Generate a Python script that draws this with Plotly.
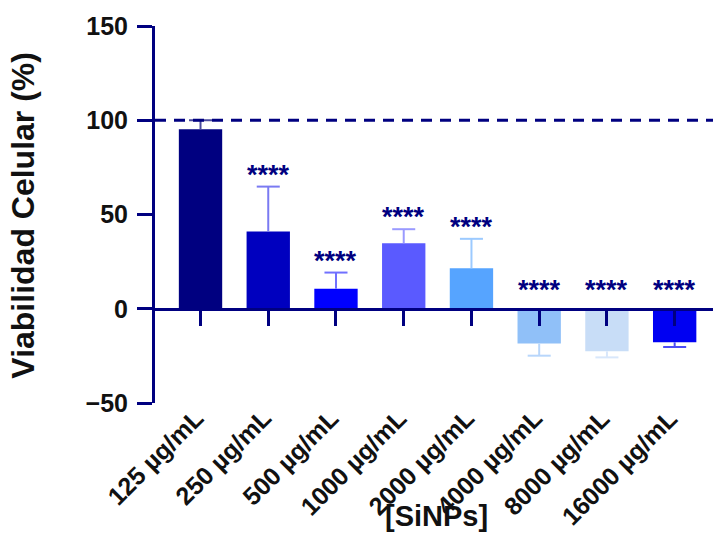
import plotly.graph_objects as go

categories = ["125 µg/mL", "250 µg/mL", "500 µg/mL", "1000 µg/mL",
              "2000 µg/mL", "4000 µg/mL", "8000 µg/mL", "16000 µg/mL"]
means = [95.2, 41.0, 10.6, 34.8, 21.5, -18.5, -22.6, -17.8]
errors = [4.8, 23.8, 8.6, 7.4, 15.6, 6.4, 3.2, 2.5]
significance = ["", "****", "****", "****", "****", "****", "****", "****"]
y_ticks = [-50, 0, 50, 100, 150]
reference_level = 100

bar_colors = ["#000080", "#0000bf", "#0000ff", "#5a5aff",
              "#56a4ff", "#90c0f8", "#c8ddf7", "#0000f2"]
err_colors = ["#4a4a9e", "#7a7af2", "#7070ff", "#9a9aff",
              "#9ccaff", "#b8d6fb", "#d8e7fb", "#4c4cf5"]

NAVY = "#000080"
TXT = "#111111"
FONT = "Liberation Sans, Arial, sans-serif"
idx = list(range(len(categories)))
xr = [-0.672, 7.566]
yr = [-50, 150]

fig = go.Figure()
fig.add_trace(go.Bar(x=idx, y=means, width=0.64,
                     marker=dict(color=bar_colors, line=dict(width=0)),
                     hoverinfo="skip", showlegend=False))
fig.add_trace(go.Scatter(x=idx, y=means, xaxis="x2", mode="markers",
                         marker=dict(opacity=0), hoverinfo="skip", showlegend=False))

shapes = []
annotations = []
cap = 0.17
for i, (m, e) in enumerate(zip(means, errors)):
    tip = m + e if m >= 0 else m - e
    shapes.append(dict(type="line", xref="x", yref="y", x0=i, x1=i, y0=m, y1=tip,
                       line=dict(color=err_colors[i], width=2), layer="above"))
    shapes.append(dict(type="line", xref="x", yref="y", x0=i - cap, x1=i + cap, y0=tip, y1=tip,
                       line=dict(color=err_colors[i], width=2), layer="above"))
    if significance[i]:
        base = max(tip, 0)
        annotations.append(dict(x=i, y=base, xref="x", yref="y", text=significance[i],
                                showarrow=False, yanchor="middle",
                                yshift=12 if m >= 0 else 19,
                                font=dict(family=FONT, size=27, color=NAVY, weight="bold")))

# category labels, rotated, below the plot area
for i, c in enumerate(categories):
    annotations.append(dict(x=i, y=yr[0], xref="x", yref="y", text=c, textangle=-45,
                            showarrow=False, xanchor="right", yanchor="top",
                            xshift=11, yshift=2,
                            font=dict(family=FONT, size=25, color=TXT, weight="bold")))

shapes.append(dict(type="line", xref="paper", yref="y", x0=0, x1=1,
                   y0=reference_level, y1=reference_level,
                   line=dict(color=NAVY, width=3, dash="11px,8px"), layer="above"))

annotations.append(dict(text="Viabilidad Celular (%)", xref="paper", yref="paper",
                        x=0, y=0.497, xshift=-132, textangle=-90, showarrow=False,
                        xanchor="center", yanchor="middle",
                        font=dict(family=FONT, size=32, color=TXT, weight="bold")))
annotations.append(dict(text="[SiNPs]", xref="paper", yref="paper",
                        x=0.505, y=-0.30, showarrow=False,
                        xanchor="center", yanchor="middle",
                        font=dict(family=FONT, size=29, color=TXT, weight="bold")))

fig.update_layout(
    width=713, height=536,
    margin=dict(l=155, r=0, t=26, b=133),
    plot_bgcolor="white", paper_bgcolor="white",
    shapes=shapes, annotations=annotations,
    xaxis=dict(range=xr, tickvals=idx, showticklabels=False,
               showline=False, ticks="", showgrid=False, zeroline=False, automargin=False),
    xaxis2=dict(range=xr, overlaying="x", anchor="free", position=0.25, side="bottom",
                showline=True, linecolor=NAVY, linewidth=3, automargin=False,
                ticks="outside", ticklen=15, tickwidth=3, tickcolor=NAVY,
                tickvals=idx, showticklabels=False, showgrid=False, zeroline=False),
    yaxis=dict(range=yr, tickvals=y_ticks, showline=True, linecolor=NAVY, linewidth=3,
               ticks="outside", ticklen=15, tickwidth=3, tickcolor=NAVY, automargin=False,
               showgrid=False, zeroline=False, ticklabelstandoff=4,
               tickfont=dict(family=FONT, size=25, color=TXT, weight="bold")),
)

fig.write_html("out.html", config={"displayModeBar": False},
               post_script="document.body.style.margin='0';document.body.style.overflow='hidden';")
